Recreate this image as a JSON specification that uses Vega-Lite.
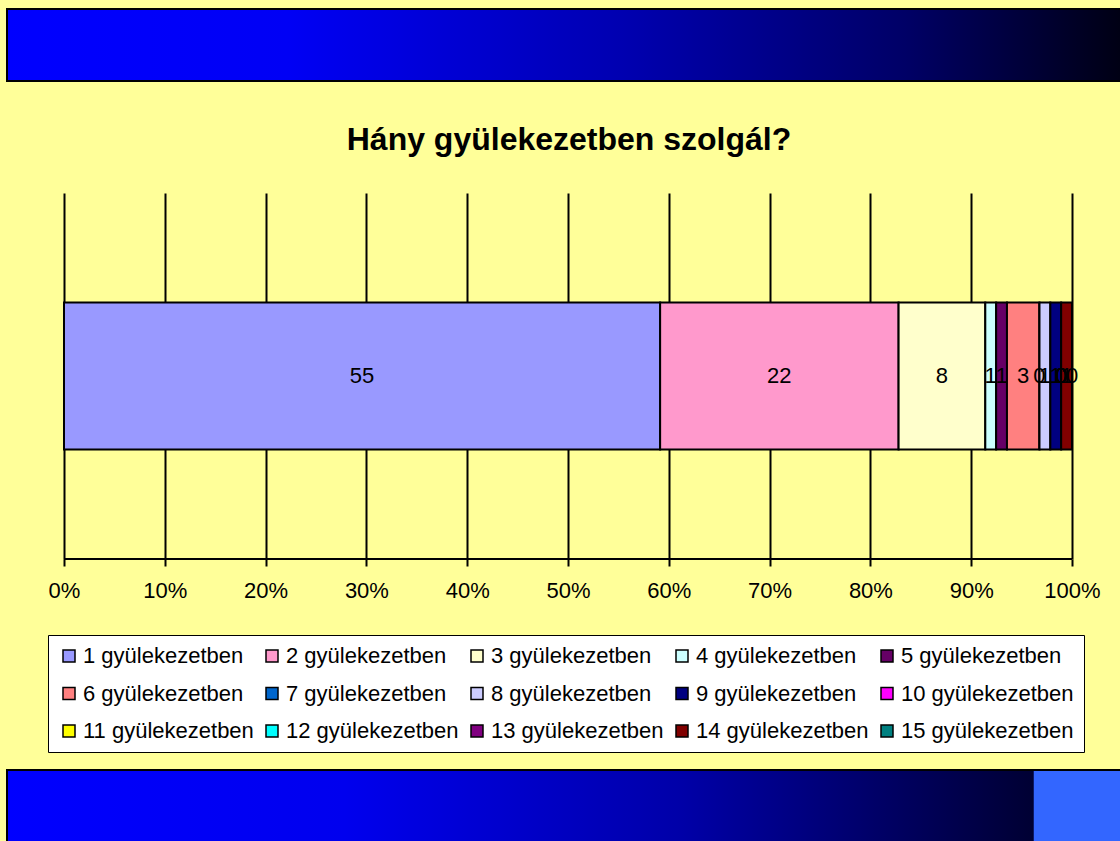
{
  "$schema": "https://vega.github.io/schema/vega-lite/v6.json",
  "background": "#FFFF99",
  "padding": {"left": 6, "top": 8, "right": 0, "bottom": 0},
  "config": {
    "font": "Liberation Sans",
    "view": {"stroke": null},
    "axisX": {
      "grid": true, "gridColor": "black", "gridWidth": 2, "gridOpacity": 1,
      "domain": false,
      "tickColor": "black", "tickWidth": 2, "tickSize": 7,
      "labelFontSize": 22, "labelColor": "black", "labelPadding": 14,
      "labelFlush": false, "labelOverlap": false, "labelFont": "Liberation Sans"
    }
  },
  "datasets": {
    "d": [
      {"kerdes": "Hány gyülekezetben szolgál?", "kat": "1 gyülekezetben", "order": 1, "db": 55},
      {"kerdes": "Hány gyülekezetben szolgál?", "kat": "2 gyülekezetben", "order": 2, "db": 22},
      {"kerdes": "Hány gyülekezetben szolgál?", "kat": "3 gyülekezetben", "order": 3, "db": 8},
      {"kerdes": "Hány gyülekezetben szolgál?", "kat": "4 gyülekezetben", "order": 4, "db": 1},
      {"kerdes": "Hány gyülekezetben szolgál?", "kat": "5 gyülekezetben", "order": 5, "db": 1},
      {"kerdes": "Hány gyülekezetben szolgál?", "kat": "6 gyülekezetben", "order": 6, "db": 3},
      {"kerdes": "Hány gyülekezetben szolgál?", "kat": "7 gyülekezetben", "order": 7, "db": 0},
      {"kerdes": "Hány gyülekezetben szolgál?", "kat": "8 gyülekezetben", "order": 8, "db": 1},
      {"kerdes": "Hány gyülekezetben szolgál?", "kat": "9 gyülekezetben", "order": 9, "db": 1},
      {"kerdes": "Hány gyülekezetben szolgál?", "kat": "10 gyülekezetben", "order": 10, "db": 0},
      {"kerdes": "Hány gyülekezetben szolgál?", "kat": "11 gyülekezetben", "order": 11, "db": 0},
      {"kerdes": "Hány gyülekezetben szolgál?", "kat": "12 gyülekezetben", "order": 12, "db": 0},
      {"kerdes": "Hány gyülekezetben szolgál?", "kat": "13 gyülekezetben", "order": 13, "db": 0},
      {"kerdes": "Hány gyülekezetben szolgál?", "kat": "14 gyülekezetben", "order": 14, "db": 1},
      {"kerdes": "Hány gyülekezetben szolgál?", "kat": "15 gyülekezetben", "order": 15, "db": 0}
    ]
  },
  "bounds": "flush",
  "spacing": 112,
  "resolve": {"legend": {"color": "independent"}, "scale": {"color": "independent"}},
  "vconcat": [
    {
      "width": 1124,
      "height": 72,
      "data": {"values": [{}]},
      "mark": {
        "type": "rect",
        "stroke": "black",
        "strokeWidth": 2,
        "color": {
          "gradient": "linear", "x1": 0, "y1": 0, "x2": 1, "y2": 0,
          "stops": [
            {"offset": 0, "color": "#0000FF"},
            {"offset": 0.25, "color": "#0000F5"},
            {"offset": 0.55, "color": "#0000B0"},
            {"offset": 0.8, "color": "#000066"},
            {"offset": 1, "color": "#000010"}
          ]
        }
      },
      "encoding": {}
    },
    {
      "bounds": "flush",
      "spacing": 211,
      "resolve": {"legend": {"color": "independent"}, "scale": {"color": "independent"}},
      "vconcat": [
        {
          "width": 1124,
          "height": 366,
          "title": {
            "text": "Hány gyülekezetben szolgál?",
            "fontSize": 32, "fontWeight": "bold", "font": "Liberation Sans",
            "color": "black", "anchor": "middle", "offset": 36
          },
          "layer": [
            {
              "data": {"name": "d"},
              "transform": [
                {"stack": "db", "groupby": ["kerdes"], "sort": [{"field": "order", "order": "ascending"}], "offset": "normalize", "as": ["x0", "x1"]}
              ],
              "mark": {"type": "bar", "stroke": "black", "strokeWidth": 2},
              "encoding": {
                "y": {"field": "kerdes", "type": "nominal", "axis": null, "scale": {"paddingInner": 0, "paddingOuter": 0.745}},
                "x": {
                  "field": "x0", "type": "quantitative", "title": null,
                  "scale": {"domain": [-0.05655, 1.05853], "nice": false, "zero": false},
                  "axis": {"values": [0, 0.1, 0.2, 0.3, 0.4, 0.5, 0.6, 0.7, 0.8, 0.9, 1], "format": ".0%", "title": null}
                },
                "x2": {"field": "x1"},
                "color": {
                  "field": "kat", "type": "nominal",
                  "scale": {
                    "domain": ["1 gyülekezetben", "2 gyülekezetben", "3 gyülekezetben", "4 gyülekezetben", "5 gyülekezetben", "6 gyülekezetben", "7 gyülekezetben", "8 gyülekezetben", "9 gyülekezetben", "10 gyülekezetben", "11 gyülekezetben", "12 gyülekezetben", "13 gyülekezetben", "14 gyülekezetben", "15 gyülekezetben"],
                    "range": ["#9999FF", "#FF99CC", "#FFFFCC", "#CCFFFF", "#660066", "#FF8080", "#0066CC", "#CCCCFF", "#000080", "#FF00FF", "#FFFF00", "#00FFFF", "#800080", "#800000", "#008080"]
                  },
                  "legend": {
                    "title": null, "orient": "none", "legendX": 41, "legendY": 442,
                    "columns": 5, "direction": "horizontal",
                    "symbolType": "square", "symbolSize": 144,
                    "symbolStrokeColor": "black", "symbolStrokeWidth": 1.5,
                    "labelFontSize": 22, "labelColor": "black", "labelLimit": 400,
                    "labelFont": "Liberation Sans",
                    "labelOffset": 3, "columnPadding": 7, "rowPadding": 15.5,
                    "padding": 10, "fillColor": "white", "strokeColor": "black"
                  }
                }
              }
            },
            {
              "data": {"name": "d"},
              "transform": [
                {"stack": "db", "groupby": ["kerdes"], "sort": [{"field": "order", "order": "ascending"}], "offset": "normalize", "as": ["x0", "x1"]},
                {"calculate": "(datum.x0 + datum.x1) / 2", "as": "xm"}
              ],
              "mark": {"type": "text", "fontSize": 22, "color": "black", "font": "Liberation Sans"},
              "encoding": {
                "y": {"field": "kerdes", "type": "nominal", "axis": null},
                "x": {"field": "xm", "type": "quantitative", "title": null},
                "text": {"field": "db", "type": "quantitative"}
              }
            },
            {
              "data": {"values": [{}]},
              "mark": {"type": "rule", "color": "black", "strokeWidth": 2},
              "encoding": {
                "x": {"datum": 0, "type": "quantitative"},
                "x2": {"datum": 1},
                "y": {"value": "height"}
              }
            }
          ]
        },
        {
          "width": 1124,
          "height": 72,
          "data": {"values": [{}]},
          "mark": {
            "type": "rect",
            "stroke": "black",
            "strokeWidth": 2,
            "color": {
              "gradient": "linear", "x1": 0, "y1": 0, "x2": 1, "y2": 0,
              "stops": [
                {"offset": 0, "color": "#0000FF"},
                {"offset": 0.3, "color": "#0000EE"},
                {"offset": 0.6, "color": "#0000A8"},
                {"offset": 0.913, "color": "#000033"},
                {"offset": 0.914, "color": "#3366FF"},
                {"offset": 1, "color": "#3366FF"}
              ]
            }
          },
          "encoding": {}
        }
      ]
    }
  ]
}
